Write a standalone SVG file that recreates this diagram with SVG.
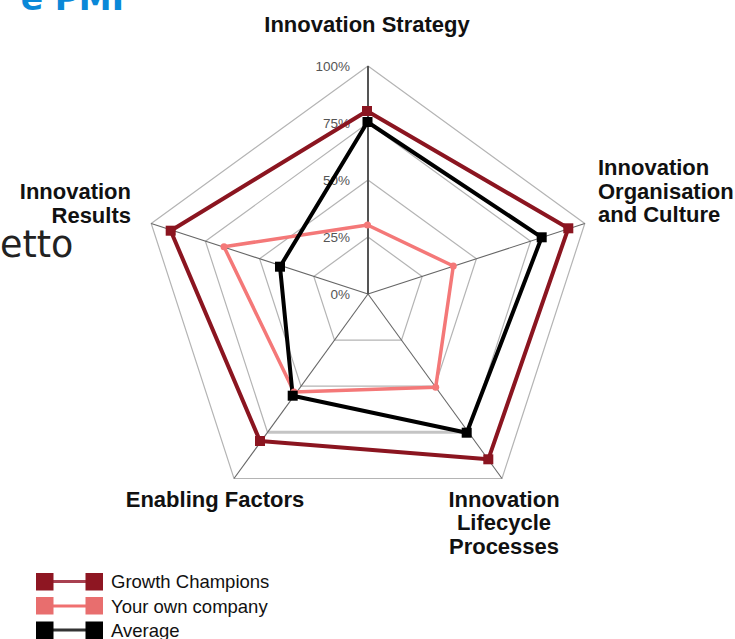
<svg xmlns="http://www.w3.org/2000/svg" width="735" height="639" viewBox="0 0 735 639">
<style>
.lbl{font-family:"Liberation Sans",Arial,sans-serif;font-weight:bold;font-size:22px;fill:#111}
.pct{font-family:"Liberation Sans",Arial,sans-serif;font-size:13.5px;fill:#555;text-anchor:end}
.leg{font-family:"Liberation Sans",Arial,sans-serif;font-size:18.5px;fill:#111}
.ring{fill:none;stroke:#b4b4b4;stroke-width:1.2}
.spoke{stroke:#666;stroke-width:1.1}
.gc{fill:none;stroke:#8b1520;stroke-width:4;stroke-linejoin:round}
.own{fill:none;stroke:#f47878;stroke-width:3.5;stroke-linejoin:round}
.avg{fill:none;stroke:#000;stroke-width:4;stroke-linejoin:round}
</style>
<rect width="735" height="639" fill="#fff"/>
<text x="124" y="10" font-family="'DejaVu Sans',Verdana,sans-serif" font-weight="bold" font-size="33" fill="#0a88d8" text-anchor="end">e PMI</text>
<text x="0" y="257" font-family="'DejaVu Sans',Verdana,sans-serif" font-size="36.5" fill="#222">etto</text>
<g id="grid">
<polygon class="ring" points="368,237 422.2,276.4 401.5,340.1 334.5,340.1 313.8,276.4"/>
<polygon class="ring" points="368,180 476.4,258.8 435,386.2 301,386.2 259.6,258.8"/>
<polygon class="ring" points="368,123 530.6,241.2 468.5,432.3 267.5,432.3 205.4,241.2"/>
<line x1="267.5" y1="432.3" x2="468.5" y2="432.3" stroke="#c4c4c4" stroke-width="3"/>
<polygon class="ring" points="368,66 584.8,223.5 502,478.5 234,478.5 151.2,223.5"/>
<line class="spoke" x1="368" y1="294" x2="584.8" y2="223.5"/>
<line class="spoke" x1="368" y1="294" x2="502" y2="478.5"/>
<line class="spoke" x1="368" y1="294" x2="234" y2="478.5"/>
<line class="spoke" x1="368" y1="294" x2="151.2" y2="223.5"/>
<line x1="368" y1="294" x2="368" y2="66" stroke="#555" stroke-width="2"/>
<text class="pct" x="350" y="70.5">100%</text>
<text class="pct" x="350" y="127.5">75%</text>
<text class="pct" x="350" y="184.5">50%</text>
<text class="pct" x="350" y="241.5">25%</text>
<text class="pct" x="350" y="298.5">0%</text>
</g>
<g id="axis-labels">
<text class="lbl" x="367" y="32" text-anchor="middle">Innovation Strategy</text>
<text class="lbl" x="598" y="175">Innovation<tspan x="598" y="199">Organisation</tspan><tspan x="598" y="222">and Culture</tspan></text>
<text class="lbl" x="504" y="507" text-anchor="middle">Innovation<tspan x="504" y="530">Lifecycle</tspan><tspan x="504" y="554">Processes</tspan></text>
<text class="lbl" x="215" y="507" text-anchor="middle">Enabling Factors</text>
<text class="lbl" x="131" y="199" text-anchor="end">Innovation<tspan x="131" y="223">Results</tspan></text>
</g>
<g id="connectors">
<polygon class="gc" points="367,111 568.3,228.3 488.3,459.3 260,441 170.7,230.7"/>
<polygon class="own" points="367.5,225 453.3,266 435.7,387.3 294,392 224,246.7"/>
<polygon class="avg" points="367.5,122 541.7,237.3 466.7,432.7 292.7,395.7 280,266.7"/>
</g>
<g id="series-growth-champions" fill="#8b1520">
<rect x="362" y="106" width="10" height="10"/>
<rect x="563.3" y="223.3" width="10" height="10"/>
<rect x="483.3" y="454.3" width="10" height="10"/>
<rect x="255" y="436" width="10" height="10"/>
<rect x="165.7" y="225.7" width="10" height="10"/>
</g>
<g id="series-own-company" fill="#f47878">
<circle cx="367.5" cy="225" r="3.5"/>
<circle cx="453.3" cy="266" r="3.5"/>
<circle cx="435.7" cy="387.3" r="3.5"/>
<circle cx="294" cy="392" r="3.5"/>
<circle cx="224" cy="246.7" r="3.5"/>
</g>
<g id="series-average" fill="#000">
<rect x="362.5" y="117" width="10" height="10"/>
<rect x="536.7" y="232.3" width="10" height="10"/>
<rect x="461.7" y="427.7" width="10" height="10"/>
<rect x="287.7" y="390.7" width="10" height="10"/>
<rect x="275" y="261.7" width="10" height="10"/>
</g>
<g id="legend">
<g id="legend-growth">
<line x1="53" y1="581.5" x2="86" y2="581.5" stroke="#a84050" stroke-width="3"/>
<rect x="36" y="573" width="17.5" height="17.5" fill="#8e1622"/>
<rect x="85.5" y="573" width="17.5" height="17.5" fill="#8e1622"/>
<text class="leg" x="111" y="588">Growth Champions</text>
</g>
<g id="legend-own">
<line x1="53" y1="606" x2="86" y2="606" stroke="#f07070" stroke-width="3"/>
<rect x="36" y="597" width="17.5" height="17.5" fill="#e86e6e"/>
<rect x="85.5" y="597" width="17.5" height="17.5" fill="#e86e6e"/>
<text class="leg" x="111" y="612.5">Your own company</text>
</g>
<g id="legend-average">
<line x1="53" y1="630" x2="86" y2="630" stroke="#333" stroke-width="3"/>
<rect x="36" y="621.5" width="17.5" height="17.5" fill="#000"/>
<rect x="85.5" y="621.5" width="17.5" height="17.5" fill="#000"/>
<text class="leg" x="111" y="636.5">Average</text>
</g>
</g>
</svg>
